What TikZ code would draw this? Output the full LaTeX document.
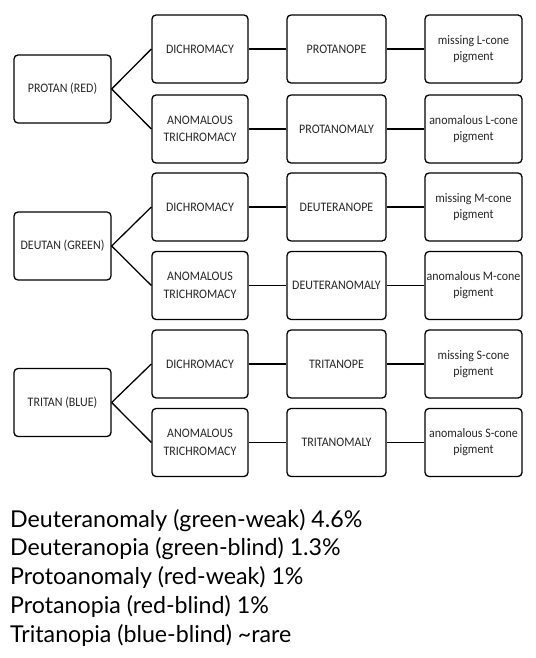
\documentclass[tikz,border=0pt]{standalone}
\usepackage{fontspec}
\newfontfamily\boxfont[FakeStretch=0.92]{Carlito}
\newfontfamily\notefont{Lato}
\begin{document}
\begin{tikzpicture}[x=1pt,y=-1pt,
  cbox/.style={draw=black, line width=1.3pt, rounded corners=4pt, minimum height=68pt,
    inner sep=0pt, align=center, font=\boxfont\fontsize{13}{17.5}\selectfont, text=black!85},
  wA/.style={cbox, minimum width=97pt},
  wB/.style={cbox, minimum width=96pt},
  wC/.style={cbox, minimum width=99pt},
  wD/.style={cbox, minimum width=97pt, font=\boxfont\fontsize{13}{16}\selectfont},
  link/.style={draw=black, line width=1.3pt},
  note/.style={anchor=base west, inner sep=0pt, font=\notefont\fontsize{23.2}{27}\selectfont}]
\useasboundingbox (0,0) rectangle (535,658);
% left column
\node[wA] (protan) at (62.5,89) {PROTAN (RED)};
\node[wA] (deutan) at (62.5,246) {DEUTAN (GREEN)};
\node[wA] (tritan) at (62.5,402.5) {TRITAN (BLUE)};
% second column
\node[wB] (pd) at (200,49) {DICHROMACY};
\node[wB] (pa) at (200,129) {ANOMALOUS\\TRICHROMACY};
\node[wB] (dd) at (200,207) {DICHROMACY};
\node[wB] (da) at (200,285.5) {ANOMALOUS\\TRICHROMACY};
\node[wB] (td) at (200,364) {DICHROMACY};
\node[wB] (ta) at (200,442.5) {ANOMALOUS\\TRICHROMACY};
% third column
\node[wC] (p1) at (336.5,49) {PROTANOPE};
\node[wC] (p2) at (336.5,129) {PROTANOMALY};
\node[wC] (d1) at (336.5,207) {DEUTERANOPE};
\node[wC] (d2) at (336.5,285.5) {DEUTERANOMALY};
\node[wC] (t1) at (336.5,364) {TRITANOPE};
\node[wC] (t2) at (336.5,442.5) {TRITANOMALY};
% fourth column
\node[wD] (pm) at (473.5,49) {missing L-cone\\pigment};
\node[wD] (pn) at (473.5,129) {anomalous L-cone\\pigment};
\node[wD] (dm) at (473.5,207) {missing M-cone\\pigment};
\node[wD] (dn) at (473.5,285.5) {anomalous M-cone\\pigment};
\node[wD] (tm) at (473.5,364) {missing S-cone\\pigment};
\node[wD] (tn) at (473.5,442.5) {anomalous S-cone\\pigment};
% connectors
\foreach \a/\b in {protan/pd, protan/pa, deutan/dd, deutan/da, tritan/td, tritan/ta}
  \draw[link] (\a.east) -- (\b.west);
\foreach \a/\b/\c in {pd/p1/pm, pa/p2/pn, dd/d1/dm, da/d2/dn, td/t1/tm, ta/t2/tn}
  {\draw[link] (\a.east) -- (\b.west); \draw[link] (\b.east) -- (\c.west);}
% notes
\node[note] (n1) at (10,527) {Deuteranomaly (green-weak) 4.6\%};
\node[note] (n2) at (10,555.75) {Deuteranopia (green-blind) 1.3\%};
\node[note] (n3) at (10,584.5) {Protoanomaly (red-weak) 1\%};
\node[note] (n4) at (10,613.25) {Protanopia (red-blind) 1\%};
\node[note] (n5) at (10,642) {Tritanopia (blue-blind) \textasciitilde rare};
\end{tikzpicture}
\end{document}
